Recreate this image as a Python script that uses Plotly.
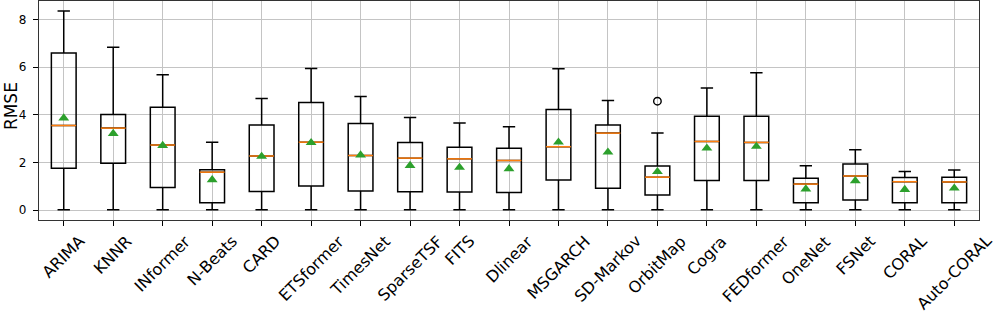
import plotly.graph_objects as go

models = ["ARIMA", "KNNR", "INformer", "N-Beats", "CARD", "ETSformer", "TimesNet",
          "SparseTSF", "FITS", "Dlinear", "MSGARCH", "SD-Markov", "OrbitMap", "Cogra",
          "FEDformer", "OneNet", "FSNet", "CORAL", "Auto-CORAL"]
lower_whisker = [0.01] * 19
q1 = [1.76, 1.96, 0.95, 0.31, 0.78, 1.01, 0.80, 0.77, 0.76, 0.74, 1.26, 0.92, 0.63,
      1.24, 1.24, 0.31, 0.42, 0.31, 0.31]
median = [3.55, 3.44, 2.73, 1.59, 2.27, 2.85, 2.29, 2.18, 2.15, 2.08, 2.66, 3.23, 1.38,
          2.88, 2.84, 1.09, 1.43, 1.19, 1.18]
q3 = [6.59, 4.01, 4.32, 1.69, 3.57, 4.52, 3.63, 2.84, 2.64, 2.59, 4.22, 3.57, 1.85,
      3.94, 3.94, 1.33, 1.93, 1.37, 1.38]
upper_whisker = [8.36, 6.84, 5.68, 2.85, 4.68, 5.94, 4.77, 3.89, 3.65, 3.50, 5.93, 4.60,
                 3.24, 5.13, 5.77, 1.86, 2.53, 1.62, 1.68]
mean = [3.86, 3.21, 2.71, 1.27, 2.25, 2.83, 2.31, 1.87, 1.79, 1.73, 2.85, 2.43, 1.61,
        2.60, 2.67, 0.88, 1.23, 0.86, 0.92]
outlier_model = ["OrbitMap"]
outlier_value = [4.57]

yticks = [0, 2, 4, 6, 8]

pos = list(range(1, len(models) + 1))
box_w = 0.5
FONT = "DejaVu Sans"

fig = go.Figure()
fig.add_trace(go.Box(
    x=pos, q1=q1, median=median, q3=q3,
    lowerfence=lower_whisker, upperfence=upper_whisker,
    width=box_w, whiskerwidth=0.5,
    line=dict(color="black", width=1.5),
    fillcolor="rgba(0,0,0,0)",
    boxpoints=False, showlegend=False, hoverinfo="skip",
))

# median lines (orange)
mx, my = [], []
for p, m in zip(pos, median):
    mx += [p - box_w / 2, p + box_w / 2, None]
    my += [m, m, None]
fig.add_trace(go.Scatter(x=mx, y=my, mode="lines",
                         line=dict(color="#ff7f0e", width=1.5),
                         showlegend=False, hoverinfo="skip"))

# means
fig.add_trace(go.Scatter(x=pos, y=mean, mode="markers",
                         marker=dict(symbol="triangle-up", size=9.5, color="#2ca02c"),
                         showlegend=False, hoverinfo="skip"))

# outliers
ox = [models.index(m) + 1 for m in outlier_model]
fig.add_trace(go.Scatter(x=ox, y=outlier_value, mode="markers",
                         marker=dict(symbol="circle-open", size=7.5, color="black",
                                     line=dict(width=1.4, color="black")),
                         showlegend=False, hoverinfo="skip"))

annotations = []
for p, name in zip(pos, models):
    annotations.append(dict(
        x=p, y=0, xref="x", yref="paper", text=name, showarrow=False,
        textangle=-45, xanchor="center", yanchor="top", yshift=-9,
        font=dict(family=FONT, size=16, color="black"),
    ))
annotations.append(dict(
    x=0, y=0.52, xref="paper", yref="paper", text="RMSE", showarrow=False,
    textangle=-90, xanchor="center", yanchor="middle", xshift=-28,
    font=dict(family=FONT, size=17, color="black"),
))

fig.update_layout(
    width=997, height=316,
    margin=dict(l=39, r=18, t=1, b=96),
    plot_bgcolor="white", paper_bgcolor="white",
    font=dict(family=FONT, color="black"),
    annotations=annotations,
    xaxis=dict(range=[0.5, len(models) + 0.5], tickvals=pos, showticklabels=False,
               ticks="outside", ticklen=5, tickcolor="black", tickwidth=1,
               showgrid=True, gridcolor="#c4c4c4", gridwidth=1,
               showline=True, linecolor="#333333", linewidth=1.2, mirror=True,
               zeroline=False),
    yaxis=dict(range=[-0.418, 8.778], tickvals=yticks, ticktext=[str(t) for t in yticks],
               ticks="outside", ticklen=5, tickcolor="black", tickwidth=1,
               ticklabelstandoff=4,
               tickfont=dict(family=FONT, size=12, color="black"),
               showgrid=True, gridcolor="#c4c4c4", gridwidth=1,
               showline=True, linecolor="#333333", linewidth=1.2, mirror=True,
               zeroline=False),
)

fig.write_html("out.html", config={"displayModeBar": False},
               post_script="document.body.style.margin='0px';document.body.style.padding='0px';")
